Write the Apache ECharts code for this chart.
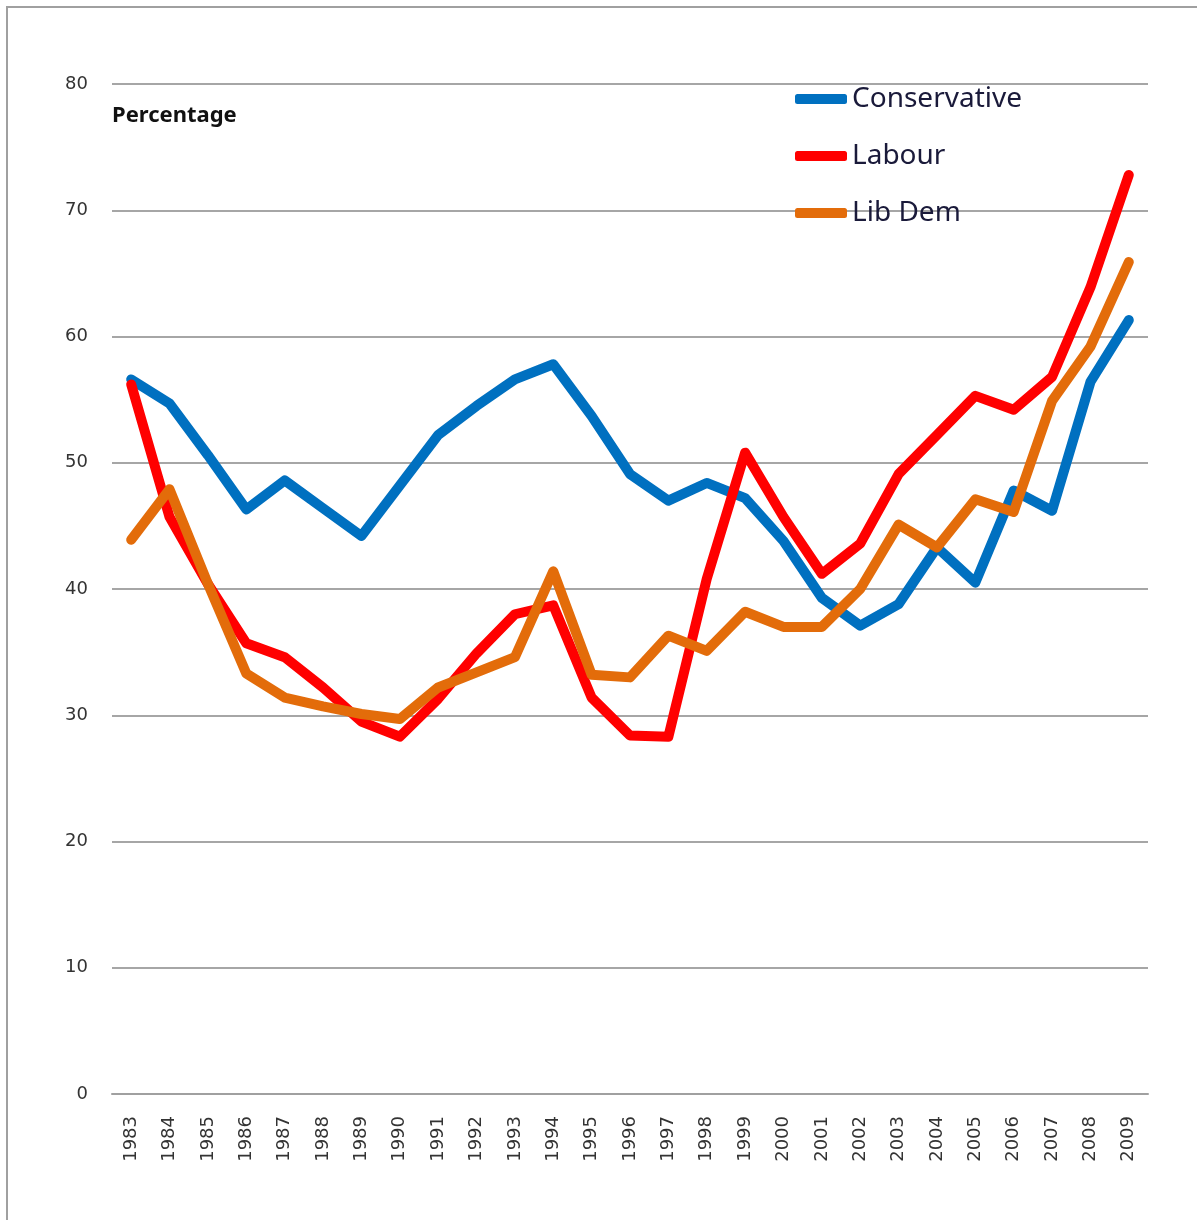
<!DOCTYPE html>
<html>
<head>
<meta charset="utf-8">
<script src="https://cdn.jsdelivr.net/npm/echarts@6/dist/echarts.min.js"></script>
<style>
  html, body { margin: 0; padding: 0; background: #fff; overflow: hidden; }
  #chart { width: 1197px; height: 1220px; }
</style>
</head>
<body>
<div id="chart"></div>
<script>
// years on the x axis
var years = ['1983','1984','1985','1986','1987','1988','1989','1990','1991','1992','1993','1994','1995',
  '1996','1997','1998','1999','2000','2001','2002','2003','2004','2005','2006','2007','2008','2009'];

// percentage values
var conservative = [56.6, 54.7, 50.6, 46.3, 48.6, 46.4, 44.2, 48.2, 52.2, 54.5, 56.6, 57.8, 53.7,
  49.1, 47.0, 48.4, 47.2, 43.8, 39.3, 37.1, 38.8, 43.3, 40.5, 47.8, 46.2, 56.4, 61.3];
var labour = [56.2, 45.7, 40.4, 35.7, 34.6, 32.2, 29.5, 28.3, 31.3, 34.9, 38.0, 38.7, 31.4,
  28.4, 28.3, 40.8, 50.8, 45.7, 41.2, 43.6, 49.1, 52.2, 55.3, 54.2, 56.8, 63.9, 72.8];
var libDem = [43.9, 47.9, 40.4, 33.3, 31.4, 30.7, 30.1, 29.7, 32.2, 33.4, 34.6, 41.4, 33.2,
  33.0, 36.3, 35.1, 38.2, 37.0, 37.0, 40.0, 45.1, 43.3, 47.1, 46.1, 54.9, 59.2, 65.9];

var yTicks = [0, 10, 20, 30, 40, 50, 60, 70, 80];

function lineSeries(name, color, data) {
  return {
    name: name,
    type: 'line',
    data: data,
    symbol: 'none',
    color: color,
    lineStyle: { width: 10, color: color, cap: 'round', join: 'round' }
  };
}

var myChart = echarts.init(document.getElementById('chart'));
var options = {
  animation: false,
  backgroundColor: '#fff',
  title: {
    text: 'Percentage',
    left: 107,
    top: 100,
    textStyle: { fontFamily: 'Noto Sans', fontWeight: 'bold', fontSize: 22, color: '#111' }
  },
  legend: {
    orient: 'vertical',
    left: 790,
    top: 79,
    itemWidth: 52,
    itemHeight: 10,
    itemGap: 27,
    icon: 'roundRect',
    textStyle: { fontFamily: 'Noto Sans', fontSize: 28, lineHeight: 30, color: '#1a1a3a' },
    data: ['Conservative', 'Labour', 'Lib Dem']
  },
  grid: { left: 112, right: 49, top: 84, bottom: 126 },
  xAxis: {
    type: 'category',
    data: years,
    boundaryGap: true,
    axisLine: { lineStyle: { color: '#a0a0a0', width: 2 } },
    axisTick: { length: 8, lineStyle: { color: '#a0a0a0', width: 2 } },
    axisLabel: { rotate: 90, margin: 22, interval: 0, fontFamily: 'DejaVu Sans', fontSize: 18, color: '#333' }
  },
  yAxis: {
    type: 'value',
    min: yTicks[0],
    max: yTicks[yTicks.length - 1],
    interval: 10,
    axisLine: { show: false },
    axisTick: { show: false },
    splitLine: { lineStyle: { color: '#a6a6a6', width: 2 } },
    axisLabel: { margin: 24, fontFamily: 'DejaVu Sans', fontSize: 18, color: '#333' }
  },
  graphic: [{
    type: 'polyline',
    shape: { points: [[7, 1220], [7, 7], [1197, 7]] },
    style: { stroke: '#a0a0a0', lineWidth: 2, fill: null }
  }],
  series: [
    lineSeries('Conservative', '#0070c0', conservative),
    lineSeries('Labour', '#ff0000', labour),
    lineSeries('Lib Dem', '#e36c0a', libDem)
  ]
};
myChart.setOption(options);
</script>
</body>
</html>
